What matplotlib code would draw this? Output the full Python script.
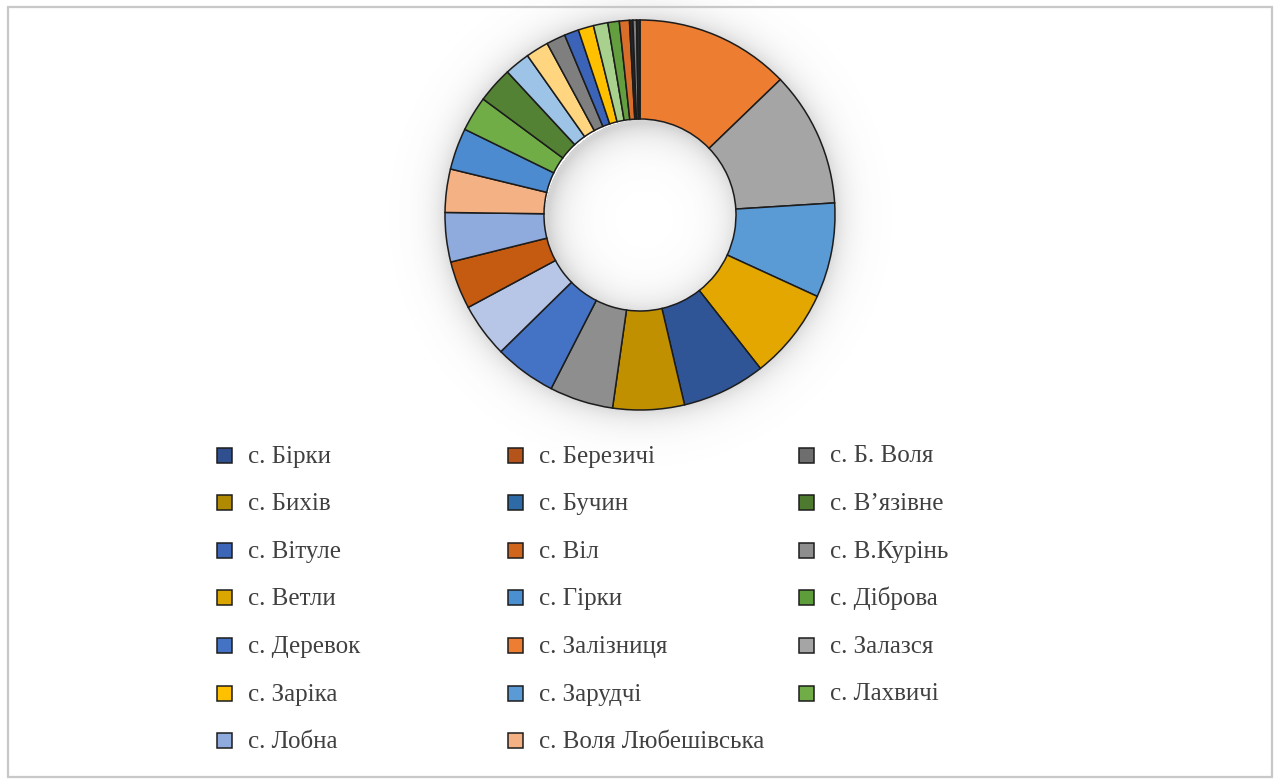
import numpy as np
import matplotlib
matplotlib.use("Agg")
import matplotlib.pyplot as plt
from matplotlib.patches import Rectangle

# ---- data: donut slices, clockwise from 12 o'clock ----
slice_values = [46.0, 40.4, 28.2, 27.2, 24.9, 21.3, 19.0, 18.4, 16.2, 14.3,
                14.7, 12.9, 12.4, 10.4, 10.7, 7.6, 6.8, 5.7, 4.3, 4.6,
                4.3, 3.4, 3.0, 1.0, 1.1, 1.0]
slice_colors = ["#ED7D31", "#A5A5A5", "#5B9BD5", "#E3A700", "#2F5597", "#C09000",
                "#8E8E8E", "#4472C4", "#B7C6E6", "#C55A11", "#8FAADC", "#F4B183",
                "#4C8BD0", "#70AD47", "#548235", "#9DC3E6", "#FFD580", "#7F7F7F",
                "#3B64B9", "#FFC000", "#A9D18E", "#639F3E", "#D86E2A", "#262626",
                "#7F7F7F", "#262626"]

# ---- legend (row-wise, 3 columns) ----
legend_labels = ["с. Бірки", "с. Березичі", "с. Б. Воля",
                 "с. Бихів", "с. Бучин", "с. В’язівне",
                 "с. Вітуле", "с. Віл", "с. В.Курінь",
                 "с. Ветли", "с. Гірки", "с. Діброва",
                 "с. Деревок", "с. Залізниця", "с. Залазся",
                 "с. Заріка", "с. Зарудчі", "с. Лахвичі",
                 "с. Лобна", "с. Воля Любешівська"]
legend_colors = ["#2F4F8F", "#B5541A", "#6E6E6E",
                 "#B08A00", "#2E6AA6", "#4E7A30",
                 "#3E66B8", "#D0661C", "#8E8E8E",
                 "#DCA600", "#4A8FD0", "#5E9E3A",
                 "#4472C4", "#ED7D31", "#A5A5A5",
                 "#FFC000", "#5B9BD5", "#70AD47",
                 "#8FAADC", "#F4B183"]

W, H = 1277, 782
fig = plt.figure(figsize=(W / 100, H / 100), dpi=100)
ax = fig.add_axes([0, 0, 1, 1])

cx, cy_top = 640, 215
cy = H - cy_top
R_out, R_in = 195, 96

# soft shadow / glow around and inside the ring
yy, xx = np.mgrid[0:H, 0:W]
d = np.hypot(xx - cx, yy - cy_top)
d_in = np.hypot(xx - cx - 4, yy - cy_top - 4)
alpha = np.zeros_like(d, dtype=float)
outer = d > R_out - 2
alpha[outer] = 0.22 * np.exp(-(d[outer] - R_out) / 14.0)
inner = d_in < R_in + 4
alpha[inner] = 0.26 * np.exp(-(R_in - d_in[inner]).clip(0) / 16.0)
rgba = np.zeros((H, W, 4))
rgba[..., :3] = 0.35
rgba[..., 3] = alpha.clip(0, 1)
ax.imshow(rgba, extent=(0, W, 0, H), origin="upper", zorder=0, interpolation="bilinear")

ax.pie(slice_values, colors=slice_colors, startangle=90, counterclock=False,
       radius=R_out, center=(cx, cy),
       wedgeprops=dict(width=R_out - R_in, edgecolor="#1c1c1c", linewidth=1.1),
       normalize=True)

# legend
col_marker_x = [217, 508, 799]
col_text_x = [248, 539, 830]
row0 = 455
row_step = 47.6
msize = 15
for i, (lab, colr) in enumerate(zip(legend_labels, legend_colors)):
    r, c = divmod(i, 3)
    yc = row0 + r * row_step
    ax.add_patch(Rectangle((col_marker_x[c], H - yc - msize / 2), msize, msize,
                           facecolor=colr, edgecolor="#1c1c1c", linewidth=1.1, zorder=3))
    ax.text(col_text_x[c], H - (yc + 7.5), lab, fontsize=18,
            family=["Liberation Serif", "DejaVu Serif"], color="#404040",
            ha="left", va="baseline", zorder=3)

# outer border
ax.add_patch(Rectangle((8, 5), 1264, 770, facecolor="none", edgecolor="#C8C8C8",
                       linewidth=1.6, zorder=4))

ax.set_xlim(0, W)
ax.set_ylim(0, H)
ax.set_aspect("auto")
ax.axis("off")
fig.savefig("out.png", dpi=100)
